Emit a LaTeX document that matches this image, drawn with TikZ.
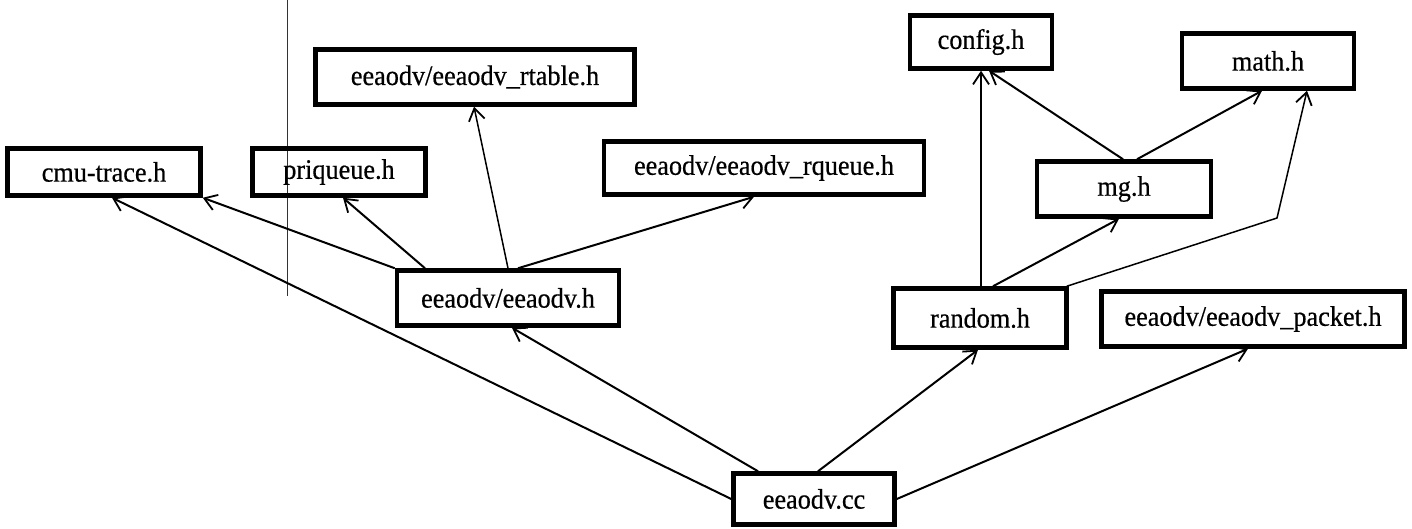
\documentclass[tikz,border=0pt]{standalone}
\usepackage{fontspec}
\setmainfont{Liberation Serif}[FakeStretch=0.93,FakeBold=0.5]
\usetikzlibrary{arrows.meta}
\begin{document}
\begin{tikzpicture}[x=1pt,y=-1pt,
  hbox/.style={draw, line width=4.5pt, inner sep=0pt, font=\fontsize{28.2}{32}\selectfont},
  dep/.style={line width=2pt, -{Straight Barb[length=12pt,width=16pt,line width=1.8pt]}},
  thindep/.style={dep, line width=1.5pt},
  artifact/.style={line width=1pt, black!80}]
\useasboundingbox (0,0) rectangle (1412,528);
% scan artifact
\draw[artifact] (287,0) -- (287,296);
% boxes
\node[hbox, minimum width=193pt, minimum height=47pt] (cmu)    at (104,172)  {cmu-trace.h};
\node[hbox, minimum width=173pt, minimum height=47pt] (pri)    at (339,172)  {priqueue.h};
\node[hbox, minimum width=319pt, minimum height=55pt] (rtable) at (475,77)   {eeaodv/eeaodv\_rtable.h};
\node[hbox, minimum width=320pt, minimum height=53pt] (rqueue) at (764,168)  {eeaodv/eeaodv\_rqueue.h};
\node[hbox, minimum width=222pt, minimum height=55pt] (eh)     at (508,298)  {eeaodv/eeaodv.h};
\node[hbox, minimum width=142pt, minimum height=53pt] (config) at (981,42)   {config.h};
\node[hbox, minimum width=172pt, minimum height=55pt] (math)   at (1268,61)  {math.h};
\node[hbox, minimum width=174pt, minimum height=55pt] (mg)     at (1124,189) {mg.h};
\node[hbox, minimum width=173pt, minimum height=59pt] (random) at (980,318)  {random.h};
\node[hbox, minimum width=303pt, minimum height=55pt] (packet) at (1253,319) {eeaodv/eeaodv\_packet.h};
\node[hbox, minimum width=161pt, minimum height=51pt] (cc)     at (814,499)  {eeaodv.cc};
\coordinate (bend) at (1277,218);
% connectors from eeaodv.cc
\draw[dep] (cc.west) -- ([xshift=8pt]cmu.south);
\draw[dep] ([xshift=-56pt]cc.north) -- ([xshift=4pt]eh.south);
\draw[dep] ([xshift=4pt]cc.north) -- ([xshift=-2pt]random.south);
\draw[dep] (cc.east) -- ([xshift=-5pt]packet.south);
% connectors from eeaodv/eeaodv.h
\draw[dep] (eh.north west) -- (cmu.south east);
\draw[dep] ([xshift=-83pt]eh.north) -- ([xshift=4pt]pri.south);
\draw[thindep] (eh.north) -- ([xshift=-1pt]rtable.south);
\draw[dep] ([xshift=10pt]eh.north) -- ([xshift=-10pt]rqueue.south);
% connectors from random.h and mg.h
\draw[thindep] ([xshift=1pt]random.north) -- (config.south);
\draw[dep] ([xshift=-1pt]mg.north) -- ([xshift=8pt]config.south);
\draw[dep] ([xshift=13pt]mg.north) -- ([xshift=-6pt]math.south);
\draw[dep] ([xshift=13pt]random.north) -- ([xshift=-5pt]mg.south);
\draw[thindep] ([xshift=-2pt]random.north east) -- (bend) -- ([xshift=39pt]math.south);
\end{tikzpicture}
\end{document}
